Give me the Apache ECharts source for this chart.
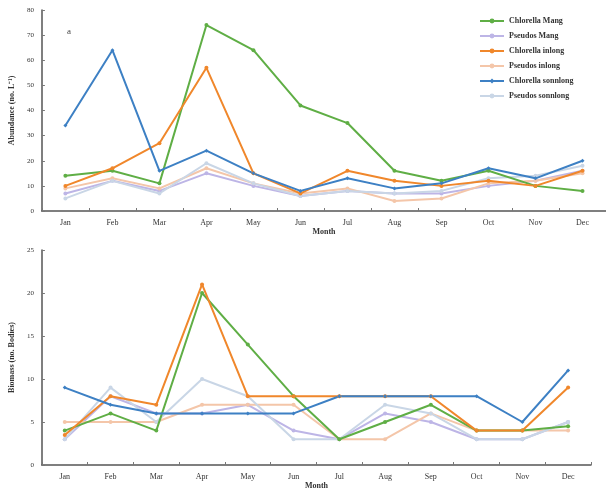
<!DOCTYPE html>
<html>
<head>
<meta charset="utf-8">
<script src="https://cdn.jsdelivr.net/npm/echarts@6/dist/echarts.min.js"></script>
<style>
  html, body { margin: 0; padding: 0; background: #ffffff; }
  #chart { width: 606px; height: 497px; }
</style>
</head>
<body>
<div id="chart"></div>
<script>
// Monthly categories shared by both panels
const months = ['Jan', 'Feb', 'Mar', 'Apr', 'May', 'Jun', 'Jul', 'Aug', 'Sep', 'Oct', 'Nov', 'Dec'];

const seriesNames = [
  'Chlorella Mang', 'Pseudos Mang', 'Chlorella inlong',
  'Pseudos inlong', 'Chlorella sonnlong', 'Pseudos sonnlong'
];

// Upper panel: abundance
const abundChlorellaMang    = [14, 16, 11, 74, 64, 42, 35, 16, 12, 16, 10, 8];
const abundPseudosMang      = [7, 12, 8, 15, 10, 6, 8, 7, 7, 10, 12, 16];
const abundChlorellaInlong  = [10, 17, 27, 57, 15, 7, 16, 12, 10, 12, 10, 16];
const abundPseudosInlong    = [9, 13, 9, 17, 11, 7, 9, 4, 5, 11, 12, 15];
const abundChlorellaSonn    = [34, 64, 16, 24, 15, 8, 13, 9, 11, 17, 13, 20];
const abundPseudosSonn      = [5, 12, 7, 19, 11, 6, 8, 7, 8, 13, 14, 18];

// Lower panel: biomass
const bioChlorellaMang      = [4, 6, 4, 20, 14, 8, 3, 5, 7, 4, 4, 4.5];
const bioPseudosMang        = [3, 8, 6, 6, 7, 4, 3, 6, 5, 3, 3, 5];
const bioChlorellaInlong    = [3.5, 8, 7, 21, 8, 8, 8, 8, 8, 4, 4, 9];
const bioPseudosInlong      = [5, 5, 5, 7, 7, 7, 3, 3, 6, 4, 4, 4];
const bioChlorellaSonn      = [9, 7, 6, 6, 6, 6, 8, 8, 8, 8, 5, 11];
const bioPseudosSonn        = [3, 9, 5, 10, 8, 3, 3, 7, 6, 3, 3, 5];

const upperTicks = [0, 10, 20, 30, 40, 50, 60, 70, 80];
const lowerTicks = [0, 5, 10, 15, 20, 25];

const colors = ['#5fae45', '#bdb5e6', '#f0872b', '#f4c6a9', '#3d80c4', '#c9d6e6'];
const symbols = ['circle', 'circle', 'circle', 'circle', 'diamond', 'circle'];

const upperData = [abundChlorellaMang, abundPseudosMang, abundChlorellaInlong,
                   abundPseudosInlong, abundChlorellaSonn, abundPseudosSonn];
const lowerData = [bioChlorellaMang, bioPseudosMang, bioChlorellaInlong,
                   bioPseudosInlong, bioChlorellaSonn, bioPseudosSonn];

const FONT = 'Liberation Serif';
const axisLineStyle = { color: '#555', width: 1.5 };

function xAxisFor(gridIndex) {
  return {
    type: 'category', gridIndex: gridIndex, data: months, boundaryGap: true,
    name: 'Month', nameLocation: 'middle', nameGap: 16,
    nameTextStyle: { fontFamily: FONT, fontSize: 8, fontWeight: 'bold', color: '#333' },
    axisLine: { lineStyle: axisLineStyle },
    axisTick: { show: true, inside: true, length: 3, lineStyle: { color: '#777' } },
    axisLabel: { fontFamily: FONT, fontSize: 8, color: '#333', margin: 8 },
    splitLine: { show: false }
  };
}

function yAxisFor(gridIndex, ticks, title) {
  return {
    type: 'value', gridIndex: gridIndex,
    min: ticks[0], max: ticks[ticks.length - 1], interval: ticks[1] - ticks[0],
    name: title, nameLocation: 'middle', nameGap: 22,
    nameTextStyle: { fontFamily: FONT, fontSize: 8, fontWeight: 'bold', color: '#333' },
    axisLine: { show: true, lineStyle: axisLineStyle },
    axisTick: { show: true, inside: true, length: 3, lineStyle: { color: '#777' } },
    axisLabel: { fontFamily: FONT, fontSize: 7, color: '#333', margin: 8 },
    splitLine: { show: false }
  };
}

function makeSeries(dataSets, axisIndex) {
  return dataSets.map((d, i) => ({
    name: seriesNames[i],
    type: 'line',
    xAxisIndex: axisIndex, yAxisIndex: axisIndex,
    data: d,
    symbol: symbols[i], symbolSize: 4,
    lineStyle: { color: colors[i], width: 2 },
    itemStyle: { color: colors[i] },
    z: (i % 2 === 0) ? 3 : 2,
    animation: false
  }));
}

const chart = echarts.init(document.getElementById('chart'), null, { renderer: 'canvas' });
chart.setOption({
  backgroundColor: '#ffffff',
  animation: false,
  title: {
    text: 'a', left: 62, top: 22,
    textStyle: { fontFamily: FONT, fontSize: 9, fontWeight: 'normal', color: '#444' }
  },
  legend: {
    data: seriesNames,
    orient: 'vertical', left: 474, top: 12,
    itemWidth: 24, itemHeight: 6, itemGap: 7,
    textStyle: { fontFamily: FONT, fontSize: 8, fontWeight: 'bold', color: '#333' }
  },
  grid: [
    { left: 40, top: 10, width: 570, height: 201 },
    { left: 40, top: 250, width: 551, height: 215 }
  ],
  xAxis: [xAxisFor(0), xAxisFor(1)],
  yAxis: [
    yAxisFor(0, upperTicks, 'Abundance (no. L\u207B\u00B9)'),
    yAxisFor(1, lowerTicks, 'Biomass (no. Bodies)')
  ],
  series: makeSeries(upperData, 0).concat(makeSeries(lowerData, 1))
});
</script>
</body>
</html>
